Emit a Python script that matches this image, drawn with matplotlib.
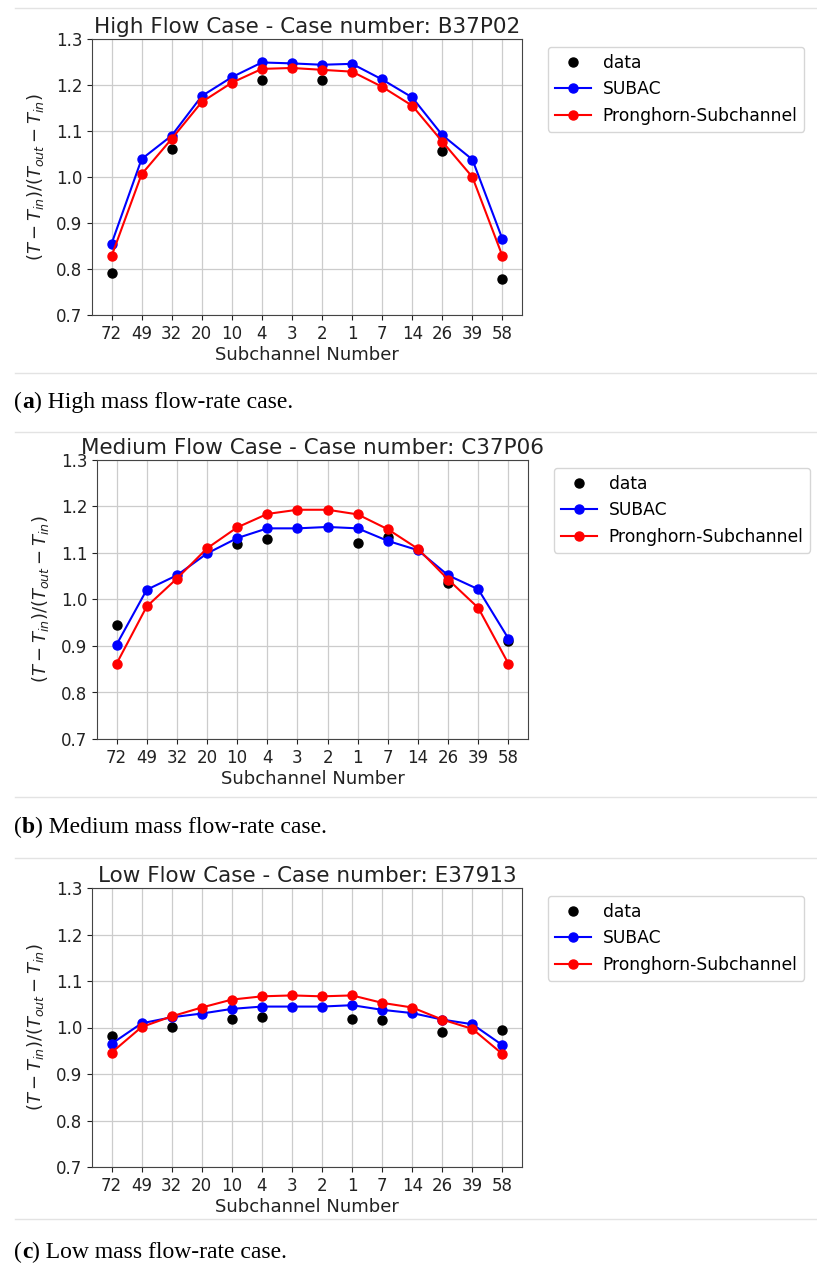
import numpy as np
import matplotlib.pyplot as plt
from matplotlib.lines import Line2D

# Subchannel order along the traverse
channels = ["72", "49", "32", "20", "10", "4", "3", "2", "1", "7", "14", "26", "39", "58"]
nan = np.nan

# High flow case B37P02
high_data = [0.792, nan, 1.060, nan, nan, 1.211, nan, 1.211, nan, nan, nan, 1.057, nan, 0.779]
high_subac = [0.855, 1.039, 1.090, 1.176, 1.217, 1.249, 1.247, 1.244, 1.246, 1.212, 1.173, 1.091, 1.038, 0.865]
high_pronghorn = [0.828, 1.006, 1.083, 1.163, 1.205, 1.235, 1.237, 1.233, 1.229, 1.196, 1.155, 1.077, 1.000, 0.828]

# Medium flow case C37P06
med_data = [0.945, nan, nan, nan, 1.119, 1.131, nan, nan, 1.122, 1.135, nan, 1.035, nan, 0.911]
med_subac = [0.903, 1.021, 1.052, 1.099, 1.132, 1.153, 1.153, 1.156, 1.153, 1.126, 1.106, 1.052, 1.022, 0.916]
med_pronghorn = [0.862, 0.985, 1.045, 1.110, 1.155, 1.184, 1.193, 1.193, 1.183, 1.151, 1.109, 1.043, 0.982, 0.862]

# Low flow case E37913
low_data = [0.982, nan, 1.002, nan, 1.019, 1.022, nan, nan, 1.019, 1.016, nan, 0.991, nan, 0.994]
low_subac = [0.965, 1.009, 1.022, 1.030, 1.040, 1.045, 1.045, 1.045, 1.048, 1.038, 1.031, 1.017, 1.007, 0.962]
low_pronghorn = [0.946, 1.001, 1.024, 1.043, 1.060, 1.067, 1.069, 1.067, 1.069, 1.053, 1.043, 1.017, 0.997, 0.943]

titles = ["High Flow Case - Case number: B37P02",
          "Medium Flow Case - Case number: C37P06",
          "Low Flow Case - Case number: E37913"]
captions = [("a", " High mass flow-rate case."),
            ("b", " Medium mass flow-rate case."),
            ("c", " Low mass flow-rate case.")]

W, H = 817, 1264
fig = plt.figure(figsize=(W / 100, H / 100), dpi=100)

# axes boxes in pixels: left, top, right, bottom
boxes = [(92, 39, 522, 315), (97, 460, 528, 739), (92, 888, 522, 1167)]
caption_base = [408, 833, 1258]
rules = [8, 373, 432, 797, 858, 1219]

cases = [(high_data, high_subac, high_pronghorn),
         (med_data, med_subac, med_pronghorn),
         (low_data, low_subac, low_pronghorn)]

x = np.arange(len(channels))
for i, (data, subac, prong) in enumerate(cases):
    l, t, r, b = boxes[i]
    ax = fig.add_axes([l / W, 1 - b / H, (r - l) / W, (b - t) / H])
    ax.plot(x, data, "o", color="black", markersize=6.5, label="data")
    ax.plot(x, subac, "o-", color="blue", markersize=6.5, linewidth=1.5, label="SUBAC")
    ax.plot(x, prong, "o-", color="red", markersize=6.5, linewidth=1.5, label="Pronghorn-Subchannel")
    ax.set_ylim(0.7, 1.3)
    ax.set_yticks([0.7, 0.8, 0.9, 1.0, 1.1, 1.2, 1.3])
    ax.set_xticks(x)
    ax.set_xticklabels(channels)
    ax.tick_params(labelsize=12, colors="#222222")
    ax.grid(True, color="#cccccc", linewidth=0.9)
    for s in ax.spines.values():
        s.set_color("#444444")
    ax.set_title(titles[i], fontsize=15.5, pad=4, color="#222222")
    ax.set_xlabel("Subchannel Number", fontsize=13, color="#222222", labelpad=2)
    ax.set_ylabel(r"$(T-T_{in})/(T_{out}-T_{in})$", fontsize=13, color="#222222", labelpad=7)
    ax.legend(loc="upper left", bbox_to_anchor=((r + 26) / W, 1 - (t + 8) / H),
              bbox_transform=fig.transFigure, borderaxespad=0, fontsize=12.3,
              handlelength=2.1, handletextpad=0.7)

    # caption below each panel
    letter, rest = captions[i]
    yb = 1 - caption_base[i] / H
    t1 = fig.text(14 / W, yb, "(", fontsize=17, family="Liberation Serif", va="baseline")
    t2 = fig.text(0, yb, letter, fontsize=17, family="Liberation Serif", weight="bold", va="baseline")
    t3 = fig.text(0, yb, ")" + rest, fontsize=17, family="Liberation Serif", va="baseline")
    fig.canvas.draw()
    rend = fig.canvas.get_renderer()
    t2.set_x(t1.get_window_extent(rend).x1 / W)
    t3.set_x(t2.get_window_extent(rend).x1 / W)

for y in rules:
    fig.add_artist(Line2D([15 / W, 1], [1 - y / H, 1 - y / H], color="#e3e3e3", linewidth=1))

fig.savefig("out.png", dpi=100)
